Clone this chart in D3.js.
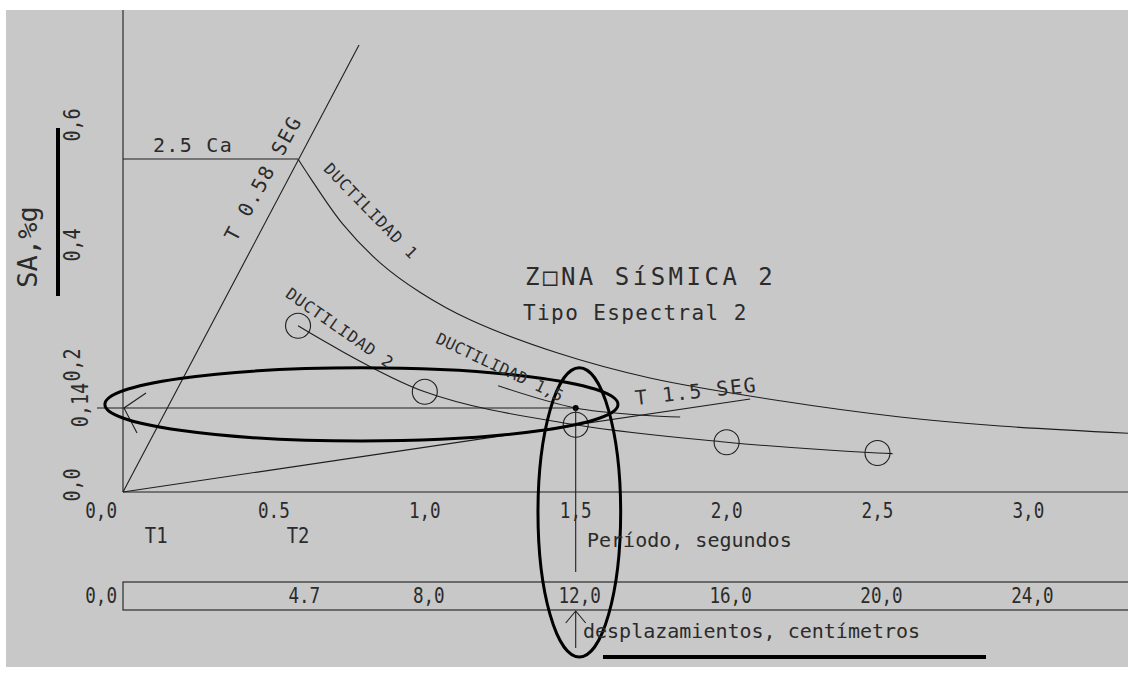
<!DOCTYPE html>
<html><head><meta charset="utf-8">
<script src="https://cdn.jsdelivr.net/npm/d3@7"></script>
<style>html,body{margin:0;padding:0;background:#fff;} svg{display:block;}</style>
</head><body>
<svg id="c" width="1128" height="677"></svg>
<script>
// ---------- data ----------
const periodTicks = [0, 0.5, 1.0, 1.5, 2.0, 2.5, 3.0];
const periodTickLabels = ["0,0", "0.5", "1,0", "1,5", "2,0", "2,5", "3,0"];
const saTicks = [0, 0.2, 0.4, 0.6];
const saTickLabels = ["0,0", "0,2", "0,4", "0,6"];
const dispTicks = [0, 4.7, 8, 12, 16, 20, 24];
const dispTickLabels = ["0,0", "4.7", "8,0", "12,0", "16,0", "20,0", "24,0"];

const plateauSA = 0.555;          // 2.5 Ca
const cornerT = 0.58;             // T 0.58 SEG
const readT = 1.5;                // T 1.5 SEG
const readSA = 0.14;              // 0,14
const t1Period = 0.11;
const t2Period = 0.58;

const duct1Period = [0.58, 0.62, 0.729, 0.852, 0.984, 1.15, 1.438, 1.746, 2.177, 2.575, 2.906, 3.33];
const duct1SA     = [0.555, 0.524, 0.446, 0.382, 0.333, 0.287, 0.232, 0.19, 0.152, 0.125, 0.11, 0.098];

const duct2Period = [0.58, 1.0, 1.5, 2.0, 2.5];
const duct2SA     = [0.277, 0.167, 0.112, 0.083, 0.065];

const duct15Period = [1.243, 1.5, 1.723, 1.846];
const duct15SA     = [0.177, 0.14, 0.128, 0.125];

const line058End = [0.782, 0.745];
const line15End  = [2.078, 0.155];

// ---------- drawing ----------
const W = 1128, H = 677;
const svg = d3.select("#c");
const FONT = "'DejaVu Sans Mono', monospace";
const INK = "#1e1e1e";
const TXT = "#2b2b2b";

svg.append("rect").attr("width", W).attr("height", H).attr("fill", "#ffffff");
const frame = {x: 6, y: 10, w: W - 6, h: 657};
svg.append("defs").append("clipPath").attr("id", "clip")
  .append("rect").attr("x", frame.x).attr("y", frame.y).attr("width", frame.w).attr("height", frame.h);
svg.append("rect").attr("x", frame.x).attr("y", frame.y).attr("width", frame.w).attr("height", frame.h)
  .attr("fill", "#c8c8c8");

const g = svg.append("g").attr("clip-path", "url(#clip)");

const x = d3.scaleLinear().domain([0, 3.33]).range([123, 1128]);
const y = d3.scaleLinear().domain([0, 0.805]).range([492, 9]);
const xd = d3.scaleLinear().domain([0, 24]).range([x(0), x(3)]);

const line = d3.line().x(d => x(d[0])).y(d => y(d[1]));
const curve = d3.line().x(d => x(d[0])).y(d => y(d[1])).curve(d3.curveCatmullRom.alpha(0.5));

function thin(sel) { return sel.attr("stroke", INK).attr("stroke-width", 1.1).attr("fill", "none"); }

// axes
thin(g.append("line").attr("x1", x(0)).attr("x2", x(0)).attr("y1", y(0)).attr("y2", y(0.805)));
thin(g.append("line").attr("x1", x(0)).attr("x2", x(3.33)).attr("y1", y(0)).attr("y2", y(0)));

// plateau 2.5 Ca
thin(g.append("path").attr("d", line([[0, plateauSA], [cornerT, plateauSA]])));
// radial period lines
thin(g.append("path").attr("d", line([[0, 0], line058End])));
thin(g.append("path").attr("d", line([[0, 0], line15End])));

// ductility curves
thin(g.append("path").attr("d", curve(duct1Period.map((t, i) => [t, duct1SA[i]]))));
const d2pts = duct2Period.map((t, i) => [t, duct2SA[i]]);
thin(g.append("path").attr("d", curve(d2pts.concat([[2.55, 0.064]]))));
thin(g.append("path").attr("d", curve(duct15Period.map((t, i) => [t, duct15SA[i]]))));

g.selectAll("circle.pt").data(d2pts).join("circle").attr("class", "pt")
  .attr("cx", d => x(d[0])).attr("cy", d => y(d[1])).attr("r", 12.5)
  .attr("fill", "none").attr("stroke", INK).attr("stroke-width", 1.1);

// reading lines
thin(g.append("line").attr("x1", x(0) - 26).attr("x2", x(readT)).attr("y1", y(readSA)).attr("y2", y(readSA)));
thin(g.append("path").attr("d", `M${x(0) + 23},${y(readSA) - 15} L${x(0) + 1},${y(readSA)} L${x(0) + 14},${y(readSA) + 25}`));
g.append("circle").attr("cx", x(readT)).attr("cy", y(readSA)).attr("r", 3).attr("fill", "#000");
thin(g.append("line").attr("x1", x(readT)).attr("x2", x(readT)).attr("y1", y(readSA)).attr("y2", 572));

// displacement band
const band = {top: 582, bottom: 610};
thin(g.append("rect").attr("x", x(0)).attr("y", band.top).attr("width", W).attr("height", band.bottom - band.top));
thin(g.append("path").attr("d", `M${xd(12)},648 L${xd(12)},${band.bottom + 1} M${xd(12) - 10},${band.bottom + 13} L${xd(12)},${band.bottom + 1} L${xd(12) + 10},${band.bottom + 13}`));

// thick ellipses
g.append("ellipse").attr("cx", x(0.79)).attr("cy", y(0.146))
  .attr("rx", x(1.64) - x(0.79)).attr("ry", y(0.085) - y(0.146))
  .attr("fill", "none").attr("stroke", "#000").attr("stroke-width", 3);
g.append("ellipse").attr("cx", x(1.512)).attr("cy", (y(0.207) + 657) / 2)
  .attr("rx", x(1.649) - x(1.512)).attr("ry", (657 - y(0.207)) / 2)
  .attr("fill", "none").attr("stroke", "#000").attr("stroke-width", 3);

// thick underline bars
g.append("rect").attr("x", 56).attr("y", 128).attr("width", 4).attr("height", 168).attr("fill", "#000");
g.append("rect").attr("x", 603).attr("y", 655).attr("width", 383).attr("height", 4).attr("fill", "#000");

// ---------- text ----------
function txt(sel, size) {
  return sel.attr("font-family", FONT).attr("font-size", size).attr("fill", TXT);
}
const NARROW = 0.8;

// x tick labels (narrow CAD-like lettering)
txt(g.selectAll("text.xt").data(periodTicks).join("text").attr("class", "xt"), 22)
  .attr("transform", d => `translate(${d === 0 ? x(0) - 6 : x(d)},518) scale(${NARROW},1)`)
  .attr("text-anchor", d => d === 0 ? "end" : "middle")
  .text((d, i) => periodTickLabels[i]);

// displacement labels
txt(g.selectAll("text.dt").data(dispTicks).join("text").attr("class", "dt"), 22)
  .attr("transform", d => `translate(${d === 0 ? xd(0) - 6 : xd(d) + 4},603) scale(${NARROW},1)`)
  .attr("text-anchor", d => d === 0 ? "end" : "middle")
  .text((d, i) => dispTickLabels[i]);

// y tick labels
txt(g.selectAll("text.yt").data(saTicks).join("text").attr("class", "yt"), 23)
  .attr("transform", d => `translate(80,${y(d) - 7}) rotate(-90) scale(${NARROW},1)`)
  .attr("text-anchor", "middle")
  .text((d, i) => saTickLabels[i]);
txt(g.append("text"), 23).attr("transform", `translate(88,${y(readSA) - 3}) rotate(-90) scale(${NARROW},1)`)
  .attr("text-anchor", "middle").text("0,14");

// y axis title
txt(g.append("text"), 27).attr("transform", "translate(37,247) rotate(-90)")
  .attr("text-anchor", "middle").text("SA,%g");

// T1, T2
txt(g.append("text"), 21).attr("transform", `translate(${x(t1Period)},543) scale(0.9,1)`).attr("text-anchor", "middle").text("T1");
txt(g.append("text"), 21).attr("transform", `translate(${x(t2Period)},543) scale(0.9,1)`).attr("text-anchor", "middle").text("T2");

// axis titles
txt(g.append("text"), 20).attr("x", 587).attr("y", 547).text("Período, segundos");
txt(g.append("text"), 20).attr("x", 583).attr("y", 638).text("desplazamientos, centímetros");

// zone titles
txt(g.append("text"), 24).attr("x", 525).attr("y", 285).attr("letter-spacing", 3.5).text("Z\u25A1NA SíSMICA 2");
txt(g.append("text"), 21).attr("x", 523).attr("y", 320).attr("letter-spacing", 1.4).text("Tipo Espectral 2");

// 2.5 Ca
txt(g.append("text"), 20).attr("x", 153).attr("y", 152).attr("letter-spacing", 1.3).text("2.5 Ca");

// rotated annotations
const notes = [
  {t: "T 0.58 SEG", cx: 263, cy: 178, a: -61.5, s: 20, ls: 1.9},
  {t: "T 1.5 SEG", cx: 696, cy: 391, a: -6.3, s: 20, ls: 1.6},
  {t: "DUCTILIDAD 1", cx: 371, cy: 211, a: 45.7, s: 16, ls: 0.9},
  {t: "DUCTILIDAD 2", cx: 340, cy: 328, a: 34.9, s: 16, ls: 1.0},
  {t: "DUCTILIDAD 1,5", cx: 500, cy: 367, a: 25.4, s: 16, ls: 0.3}
];
notes.forEach(n => {
  txt(g.append("text"), n.s).attr("transform", `translate(${n.cx},${n.cy}) rotate(${n.a})`)
    .attr("text-anchor", "middle").attr("dy", "0.36em").attr("letter-spacing", n.ls).text(n.t);
});
</script>
</body></html>
